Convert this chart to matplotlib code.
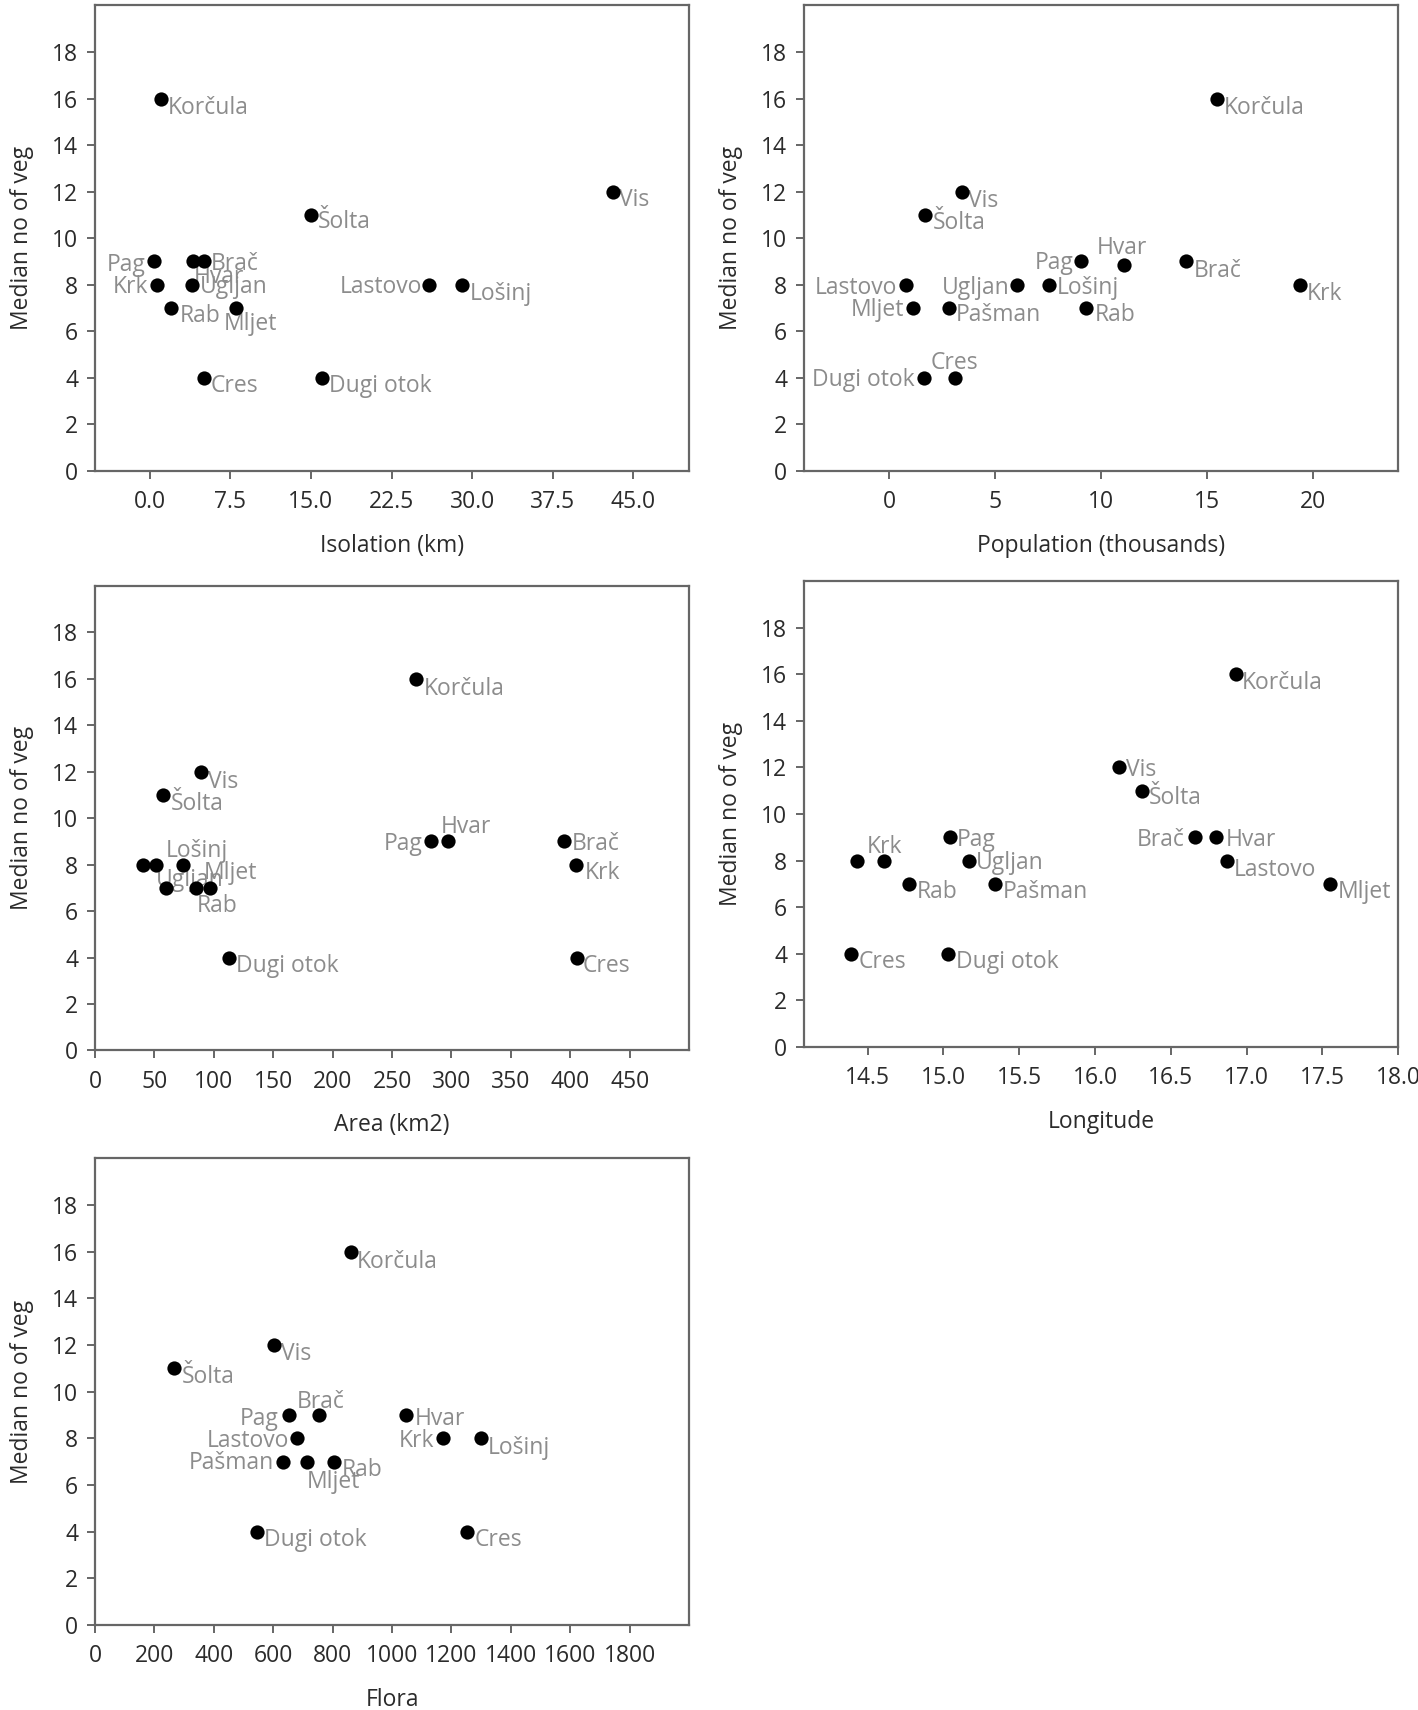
import matplotlib
matplotlib.use("Agg")
import matplotlib.pyplot as plt

plt.rcParams['font.family'] = ['Open Sans', 'DejaVu Sans']

Y_LABEL = 'Median no of veg'

# Isolation (km)
iso_names = ['Korčula', 'Vis', 'Šolta', 'Pag', 'Hvar', 'Brač', 'Krk', 'Ugljan',
             'Lastovo', 'Lošinj', 'Rab', 'Mljet', 'Cres', 'Dugi otok']
iso_x = [1.0, 43.1, 15.0, 0.4, 4.0, 5.0, 0.7, 3.9, 26.0, 29.1, 2.0, 8.0, 5.0, 16.0]
iso_y = [16, 12, 11, 9, 9, 9, 8, 8, 8, 8, 7, 7, 4, 4]

# Population (thousands)
pop_names = ['Korčula', 'Vis', 'Šolta', 'Pag', 'Hvar', 'Brač', 'Lastovo', 'Ugljan',
             'Lošinj', 'Krk', 'Mljet', 'Pašman', 'Rab', 'Dugi otok', 'Cres']
pop_x = [15.5, 3.43, 1.68, 9.07, 11.1, 14.0, 0.78, 6.03, 7.54, 19.4, 1.1, 2.82, 9.29, 1.64, 3.08]
pop_y = [16, 12, 11, 9, 8.85, 9, 8, 8, 8, 8, 7, 7, 7, 4, 4]

# Area (km2)
area_names = ['Korčula', 'Vis', 'Šolta', 'Lastovo', 'Ugljan', 'Lošinj', 'Pašman', 'Rab',
              'Mljet', 'Pag', 'Hvar', 'Brač', 'Krk', 'Cres', 'Dugi otok']
area_x = [270, 89.5, 57.6, 40.4, 51, 74, 59.6, 85, 97, 283, 297, 395, 405, 405.5, 113]
area_y = [16, 12, 11, 8, 8, 8, 7, 7, 7, 9, 9, 9, 8, 4, 4]

# Longitude
lon_names = ['Korčula', 'Vis', 'Šolta', 'Brač', 'Hvar', 'Lastovo', 'Mljet', 'Pag',
             'Ugljan', 'Pašman', 'Rab', 'Lošinj', 'Krk', 'Cres', 'Dugi otok']
lon_x = [16.93, 16.16, 16.31, 16.66, 16.80, 16.87, 17.55, 15.04, 15.17, 15.34, 14.77,
         14.43, 14.61, 14.39, 15.03]
lon_y = [16, 12, 11, 9, 9, 8, 7, 9, 8, 7, 7, 8, 8, 4, 4]

# Flora
flora_names = ['Korčula', 'Vis', 'Šolta', 'Pag', 'Brač', 'Hvar', 'Lastovo', 'Krk',
               'Lošinj', 'Pašman', 'Mljet', 'Rab', 'Dugi otok', 'Cres']
flora_x = [861, 601, 267, 652, 753, 1048, 679, 1171, 1300, 633, 715, 804, 544, 1251]
flora_y = [16, 12, 11, 9, 9, 9, 8, 8, 8, 7, 7, 7, 4, 4]

# label placement: (dx pt, dy pt, ha); None = label hidden
iso_pos = {'Korčula': (5, -7, 'left'), 'Vis': (4.6, -6, 'left'), 'Šolta': (5.2, -5.3, 'left'),
           'Pag': (-6.2, -2.6, 'right'), 'Brač': (4.9, -1.8, 'left'), 'Krk': (-6.5, -1.8, 'right'),
           'Hvar': (1, -11, 'left'), 'Ugljan': (5.6, -1.8, 'left'), 'Rab': (5.9, -6, 'left'),
           'Mljet': (-8.5, -11.8, 'left'), 'Lastovo': (-5.2, -1.8, 'right'),
           'Lošinj': (5.6, -6.6, 'left'), 'Cres': (5.2, -6, 'left'), 'Dugi otok': (5.2, -6, 'left')}
pop_pos = {'Korčula': (4.3, -7.1, 'left'), 'Vis': (4.6, -6.6, 'left'), 'Šolta': (5.6, -5.8, 'left'),
           'Pag': (-5.9, -1.3, 'right'), 'Hvar': (-1.6, 12.4, 'center'), 'Brač': (5.6, -6.6, 'left'),
           'Lastovo': (-6.5, -2.4, 'right'), 'Ugljan': (-5.6, -2.4, 'right'),
           'Lošinj': (5.9, -2.4, 'left'), 'Krk': (5.2, -6.6, 'left'), 'Mljet': (-5.9, -1.3, 'right'),
           'Pašman': (4.6, -5.3, 'left'), 'Rab': (6.2, -5.3, 'left'),
           'Dugi otok': (-6.9, -1.3, 'right'), 'Cres': (0, 10.5, 'center')}
area_pos = {'Korčula': (5.6, -7.4, 'left'), 'Vis': (4.9, -7.1, 'left'), 'Šolta': (5.2, -6.6, 'left'),
            'Lošinj': (-12.4, 9.7, 'left'), 'Ugljan': (0, -11.3, 'left'), 'Mljet': (-4.9, 10.5, 'left'),
            'Rab': (0.7, -13.2, 'left'), 'Pag': (-6.2, -1.8, 'right'), 'Hvar': (-4.9, 10.5, 'left'),
            'Brač': (5.2, -1.8, 'left'), 'Krk': (5.9, -6, 'left'), 'Cres': (4.3, -6, 'left'),
            'Dugi otok': (4.9, -6, 'left'), 'Lastovo': None, 'Pašman': None}
lon_pos = {'Korčula': (4.3, -6.6, 'left'), 'Vis': (4.9, -2.1, 'left'), 'Šolta': (4.9, -5.3, 'left'),
           'Brač': (-7.5, -2.1, 'right'), 'Hvar': (6.5, -2.1, 'left'), 'Lastovo': (4.9, -6.6, 'left'),
           'Mljet': (5.9, -6, 'left'), 'Pag': (5.2, -2.1, 'left'), 'Ugljan': (4.9, -1.8, 'left'),
           'Pašman': (5.6, -6, 'left'), 'Rab': (5.6, -6, 'left'), 'Krk': (-12.4, 10, 'left'),
           'Cres': (5.6, -5.8, 'left'), 'Dugi otok': (5.9, -5.8, 'left'), 'Lošinj': None}
flora_pos = {'Korčula': (4.3, -7.1, 'left'), 'Vis': (5.6, -6.8, 'left'), 'Šolta': (5.2, -6.3, 'left'),
             'Pag': (-6.9, -2.6, 'right'), 'Brač': (-16, 9.7, 'left'), 'Hvar': (5.9, -2.6, 'left'),
             'Lastovo': (-5.6, -2.1, 'right'), 'Krk': (-6.2, -2.1, 'right'),
             'Lošinj': (4.9, -6.6, 'left'), 'Pašman': (-6.2, -0.8, 'right'),
             'Mljet': (-0.7, -14.5, 'left'), 'Rab': (5.9, -6, 'left'),
             'Dugi otok': (5.6, -6.3, 'left'), 'Cres': (5.6, -5.8, 'left')}

FS = 16.5
LABEL_GREY = '#8c8c8c'
DARK = '#2b2b2b'
EDGE = '#666666'


def draw_panel(ax, xs, ys, names, pos, xlim, xticks, xfmt, xlabel):
    ax.scatter(xs, ys, s=105, color='black', zorder=3, linewidths=0)
    for x, y, n in zip(xs, ys, names):
        p = pos.get(n)
        if p is None:
            continue
        ax.annotate(n, (x, y), xytext=(p[0], p[1]), textcoords='offset points',
                    ha=p[2], va='center', fontsize=FS, color=LABEL_GREY, zorder=2)
    ax.set_xlim(*xlim)
    ax.set_ylim(0, 20)
    ax.set_xticks(xticks)
    ax.set_xticklabels([xfmt.format(t) for t in xticks])
    ax.set_yticks(range(0, 20, 2))
    ax.tick_params(direction='out', length=6, width=1.4, color=EDGE, labelsize=FS,
                   labelcolor=DARK, pad=6)
    ax.tick_params(axis='x', pad=8)
    for sp in ax.spines.values():
        sp.set_color(EDGE)
        sp.set_linewidth(1.6)
    ax.set_xlabel(xlabel, fontsize=FS, color=DARK, labelpad=14)
    ax.set_ylabel(Y_LABEL, fontsize=FS, color=DARK, labelpad=13)


fig = plt.figure(figsize=(14.18, 17.10), dpi=100)
ax1 = fig.add_axes([0.067, 0.7246, 0.419, 0.2722])
ax2 = fig.add_axes([0.567, 0.7246, 0.419, 0.2722])
ax3 = fig.add_axes([0.067, 0.3857, 0.419, 0.2716])
ax4 = fig.add_axes([0.567, 0.3877, 0.419, 0.2725])
ax5 = fig.add_axes([0.067, 0.0497, 0.419, 0.2729])

draw_panel(ax1, iso_x, iso_y, iso_names, iso_pos, (-5.1, 50.2),
           [0, 7.5, 15, 22.5, 30, 37.5, 45], '{:.1f}', 'Isolation (km)')
draw_panel(ax2, pop_x, pop_y, pop_names, pop_pos, (-4.04, 24.04),
           [0, 5, 10, 15, 20], '{:d}', 'Population (thousands)')
draw_panel(ax3, area_x, area_y, area_names, area_pos, (0, 500),
           list(range(0, 451, 50)), '{:d}', 'Area (km2)')
draw_panel(ax4, lon_x, lon_y, lon_names, lon_pos, (14.08, 18.0),
           [14.5, 15.0, 15.5, 16.0, 16.5, 17.0, 17.5, 18.0], '{:.1f}', 'Longitude')
draw_panel(ax5, flora_x, flora_y, flora_names, flora_pos, (0, 2000),
           list(range(0, 1801, 200)), '{:d}', 'Flora')

fig.savefig('out.png', dpi=100)
